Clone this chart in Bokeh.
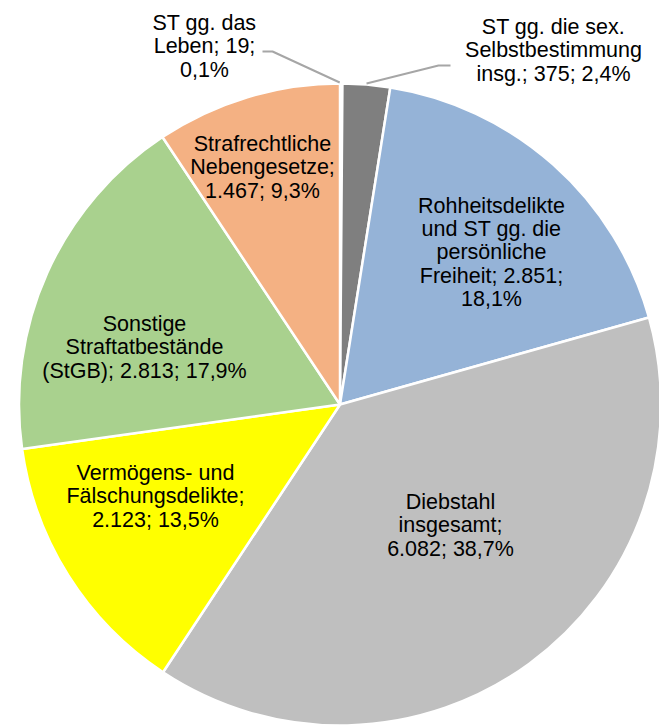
import numpy as np
from bokeh.plotting import figure
from bokeh.models import ColumnDataSource, Range1d
from bokeh.core.properties import value
from bokeh.embed import file_html
from bokeh.resources import INLINE

# ---- data (clockwise from 12 o'clock) ----
categories = [
    "ST gg. das Leben",
    "ST gg. die sex. Selbstbestimmung insg.",
    "Rohheitsdelikte und ST gg. die persönliche Freiheit",
    "Diebstahl insgesamt",
    "Vermögens- und Fälschungsdelikte",
    "Sonstige Straftatbestände (StGB)",
    "Strafrechtliche Nebengesetze",
]
counts = [19, 375, 2851, 6082, 2123, 2813, 1467]
percent_labels = ["0,1%", "2,4%", "18,1%", "38,7%", "13,5%", "17,9%", "9,3%"]
count_labels = ["19", "375", "2.851", "6.082", "2.123", "2.813", "1.467"]
label_texts = [
    "ST gg. das\nLeben; 19;\n0,1%",
    "ST gg. die sex.\nSelbstbestimmung\ninsg.; 375; 2,4%",
    "Rohheitsdelikte\nund ST gg. die\npersönliche\nFreiheit; 2.851;\n18,1%",
    "Diebstahl\ninsgesamt;\n6.082; 38,7%",
    "Vermögens- und\nFälschungsdelikte;\n2.123; 13,5%",
    "Sonstige\nStraftatbestände\n(StGB); 2.813; 17,9%",
    "Strafrechtliche\nNebengesetze;\n1.467; 9,3%",
]
colors = ["#4472c4", "#7f7f7f", "#95b3d7", "#bfbfbf", "#ffff00", "#a9d18e", "#f4b183"]

# ---- layout (pixel units, y measured upward) ----
W, H = 659, 726
CX, CY, R = 339.5, H - 404, 321

vals = np.array(counts, dtype=float)
frac = vals / vals.sum()
cum = np.concatenate([[0], np.cumsum(frac)])
start = np.pi / 2 - 2 * np.pi * cum[:-1]
end = np.pi / 2 - 2 * np.pi * cum[1:]
mid = (start + end) / 2

src = ColumnDataSource(dict(start=start, end=end, color=colors, cat=categories))

p = figure(width=W, height=H, output_backend="svg", toolbar_location=None,
           x_range=Range1d(0, W), y_range=Range1d(0, H),
           min_border=0, outline_line_color=None)
p.axis.visible = False
p.grid.visible = False
p.background_fill_color = "white"
p.border_fill_color = "white"

p.wedge(x=CX, y=CY, radius=R, start_angle="start", end_angle="end",
        direction="clock", fill_color="color", line_color="white",
        line_width=2.5, source=src)

# label positions (picture px, y from top)
label_pos_page = [(204, 46), (553, 50), (491, 252), (450, 525),
                  (155, 496), (144, 347), (262, 167)]
lx = [x for x, y in label_pos_page]
ly = [H - y for x, y in label_pos_page]
lsrc = ColumnDataSource(dict(x=lx, y=ly, t=label_texts))
p.text(x="x", y="y", text="t", source=lsrc, text_align="center",
       text_baseline="middle", text_font=value("Liberation Sans"),
       text_font_size="21.5px", text_color="#000000", text_line_height=0.97)

# leader lines for the two small outer labels
for i, (p1, p2) in zip([0, 1], [((262, 51), (272, 51)), ((450, 65), (438, 65))]):
    ax = CX + (R + 1) * np.cos(mid[i]) - (1.5 if i == 0 else 0)
    ay = CY + (R + 1) * np.sin(mid[i])
    xs = [p1[0], p2[0], ax]
    ys = [H - p1[1], H - p2[1], ay]
    p.line(xs, ys, line_color="#a6a6a6", line_width=2)

open("out.html", "w").write(file_html(p, INLINE))
